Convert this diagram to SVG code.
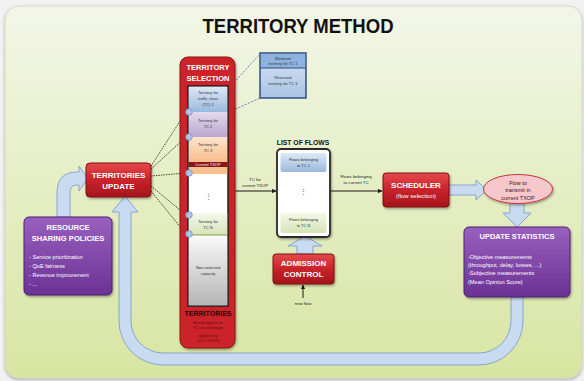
<svg xmlns="http://www.w3.org/2000/svg" width="584" height="381" viewBox="0 0 584 381">
<defs>
<linearGradient id="bg" x1="0" y1="0" x2="0" y2="1"><stop offset="0" stop-color="#f3f6e7"/><stop offset="1" stop-color="#d7e5a1"/></linearGradient>
<linearGradient id="red" x1="0" y1="0" x2="0" y2="1"><stop offset="0" stop-color="#e6494c"/><stop offset="0.5" stop-color="#c9222a"/><stop offset="1" stop-color="#a3161c"/></linearGradient>
<linearGradient id="purple" x1="0" y1="0" x2="0" y2="1"><stop offset="0" stop-color="#9960bf"/><stop offset="1" stop-color="#6b3294"/></linearGradient>
<linearGradient id="gblue" x1="0" y1="0" x2="0" y2="1"><stop offset="0" stop-color="#dde8f6"/><stop offset="1" stop-color="#9bb9dd"/></linearGradient>
<linearGradient id="gpurple" x1="0" y1="0" x2="0" y2="1"><stop offset="0" stop-color="#e3dbed"/><stop offset="1" stop-color="#b8a6cd"/></linearGradient>
<linearGradient id="gorange" x1="0" y1="0" x2="0" y2="1"><stop offset="0" stop-color="#fde4cf"/><stop offset="1" stop-color="#f8bd8a"/></linearGradient>
<linearGradient id="ggray" x1="0" y1="0" x2="0" y2="1"><stop offset="0" stop-color="#f8f8f8"/><stop offset="1" stop-color="#b5b5b5"/></linearGradient>
<linearGradient id="ggreen" x1="0" y1="0" x2="0" y2="1"><stop offset="0" stop-color="#f4f8ea"/><stop offset="1" stop-color="#d6e4b6"/></linearGradient>
<linearGradient id="gcall" x1="0" y1="0" x2="0" y2="1"><stop offset="0" stop-color="#d6e4f5"/><stop offset="1" stop-color="#a9c3e4"/></linearGradient>
<filter id="sh" x="-20%" y="-20%" width="140%" height="140%"><feDropShadow dx="1" dy="1.5" stdDeviation="1.2" flood-color="#000" flood-opacity="0.35"/></filter>
<filter id="psh" x="-5%" y="-5%" width="110%" height="110%"><feDropShadow dx="0" dy="1.5" stdDeviation="1.5" flood-color="#000" flood-opacity="0.3"/></filter>
<marker id="ah" viewBox="0 0 6 6" refX="5.5" refY="3" markerWidth="4.5" markerHeight="4.5" orient="auto"><path d="M0,0 L6,3 L0,6 z" fill="#1a1a1a"/></marker>
</defs>
<style>
text { font-family: "Liberation Sans", Arial, sans-serif; }
.wb { fill:#fff; font-weight:bold; text-anchor:middle; }
.wr { fill:#fff; text-anchor:middle; }
.sm { font-size:4px; fill:#333; text-anchor:middle; }
.lbl { font-size:4.3px; fill:#222; text-anchor:middle; }
.body { fill:#fff; font-size:5.6px; }
.redbox { fill:url(#red); stroke:#7d1111; stroke-width:1; filter:url(#sh); }
.purplebox { fill:url(#purple); stroke:#4e2270; stroke-width:1; filter:url(#sh); }
.pipe { fill:#c8dbf1; stroke:#88a6cb; stroke-width:1; }
.dot { stroke:#3e4c26; stroke-width:1; stroke-dasharray:1.5 1; fill:none; }
.dash { stroke:#5b86c0; stroke-width:1; stroke-dasharray:2 1.5; fill:none; }
.line { stroke:#221010; stroke-width:1; fill:none; }
.bullet { fill:#aac5e7; stroke:#6f8fbf; stroke-width:0.7; }
</style>

<rect x="0" y="0" width="584" height="381" fill="#f2f2f2"/>
<rect x="5" y="6" width="577" height="372" rx="14" fill="url(#bg)" stroke="#d0d6c0" stroke-width="0.8" filter="url(#psh)"/>

<text x="298" y="33" font-size="20" font-weight="bold" fill="#111" text-anchor="middle" textLength="191" lengthAdjust="spacingAndGlyphs">TERRITORY METHOD</text>

<g id="connectors">
  <path class="pipe" d="M511,297 L511,321 A32,32 0 0 1 479,353 L163,353 A32,32 0 0 1 131,321 L131,212 L138,212 L125,196 L112,212 L119,212 L119,321 A44,44 0 0 0 163,365 L479,365 A44,44 0 0 0 523,321 L523,297 Z"/>
  <path class="pipe" d="M57,217 L57,193 Q57,172 77,172 L79,172 L79,166 L88,178.5 L79,191 L79,185 L77,185 Q70,185 70,193 L70,217 Z"/>
  <path class="pipe" d="M449,185 L476,185 L476,180 L487,190 L476,200 L476,195 L449,195 Z"/>
  <path class="pipe" d="M510,203 L510,213 L503,213 L517,227 L531,213 L524,213 L524,203 Z"/>
  <path class="pipe" d="M297,254 L297,246 L288,246 L305,236 L322,246 L313,246 L313,254 Z"/>
  <line class="dot" x1="151" y1="166" x2="186" y2="112"/>
  <line class="dot" x1="151" y1="169" x2="186" y2="137"/>
  <line class="dot" x1="151" y1="176" x2="186" y2="173"/>
  <line class="dot" x1="151" y1="186" x2="186" y2="215"/>
  <line class="dot" x1="151" y1="191" x2="186" y2="234"/>
  <line class="dash" x1="229" y1="88" x2="260" y2="54"/>
  <line class="dash" x1="229" y1="112" x2="260" y2="98"/>
  <polyline class="line" points="228,164 233,164 233,191 276,191" marker-end="url(#ah)"/>
  <line class="line" x1="331" y1="191" x2="382" y2="191" marker-end="url(#ah)"/>
  <line class="line" x1="303" y1="298" x2="303" y2="285" marker-end="url(#ah)"/>
  <text class="lbl" x="255" y="181">TC for</text>
  <text class="lbl" x="255" y="187">current TXOP</text>
  <text class="lbl" x="356" y="178">Flows belonging</text>
  <text class="lbl" x="356" y="184">to current TC</text>
  <text class="lbl" x="303" y="305">new flow</text>
</g>

<g id="territory-selection">
  <rect x="180" y="57" width="55" height="291" rx="8" fill="#cc2229" stroke="#8a1515" stroke-width="1" filter="url(#sh)"/>
  <text class="wb" x="208" y="70" font-size="7.5">TERRITORY</text>
  <text class="wb" x="208" y="81" font-size="7.5">SELECTION</text>
  <rect x="188" y="86" width="40" height="220" fill="#fff" stroke="#1e1e1e" stroke-width="1.5"/>
  <rect x="188.8" y="86.8" width="38.4" height="25.2" fill="url(#gblue)"/>
  <rect x="188.8" y="112" width="38.4" height="25" fill="url(#gpurple)"/>
  <rect x="188.8" y="137" width="38.4" height="25" fill="url(#gorange)"/>
  <rect x="188.8" y="162" width="38.4" height="5" fill="#8c1518"/>
  <rect x="188.8" y="167" width="38.4" height="7" fill="#f9c08f"/>
  <rect x="188.8" y="213" width="38.4" height="22" fill="url(#ggreen)"/>
  <line x1="188.8" y1="235" x2="227.2" y2="235" stroke="#7aa33a" stroke-width="1"/>
  <rect x="188.8" y="237" width="38.4" height="68.2" fill="url(#ggray)"/>
  <text class="sm" x="208" y="94">Territory for</text>
  <text class="sm" x="208" y="100">traffic class</text>
  <text class="sm" x="208" y="106">(TC) 1</text>
  <text class="sm" x="208" y="122">Territory for</text>
  <text class="sm" x="208" y="128">TC 2</text>
  <text class="sm" x="208" y="146">Territory for</text>
  <text class="sm" x="208" y="152">TC 3</text>
  <text class="sm" x="208" y="166" fill="#fff" style="fill:#fff">Current TXOP</text>
  <text x="208" y="199" font-size="7" fill="#555" text-anchor="middle">⋮</text>
  <text class="sm" x="208" y="223">Territory for</text>
  <text class="sm" x="208" y="229">TC N</text>
  <text class="sm" x="208" y="269">Non-reserved</text>
  <text class="sm" x="208" y="275">capacity</text>
  <text x="208" y="316" font-size="7" font-weight="bold" fill="#2d0606" text-anchor="middle">TERRITORIES</text>
  <text x="208" y="324" font-size="3.8" fill="#5c0b0b" text-anchor="middle">Bound edge to its</text>
  <text x="208" y="329" font-size="3.8" fill="#5c0b0b" text-anchor="middle">TC's transmission</text>
  <text x="208" y="337" font-size="3.8" fill="#5c0b0b" text-anchor="middle">opportunity</text>
  <text x="208" y="342" font-size="3.8" fill="#5c0b0b" text-anchor="middle">(TC's TXOP)</text>
  <circle class="bullet" cx="189" cy="112" r="3.3"/>
  <circle class="bullet" cx="189" cy="137" r="3.3"/>
  <circle class="bullet" cx="189" cy="173" r="3.3"/>
  <circle class="bullet" cx="189" cy="215" r="3.3"/>
  <circle class="bullet" cx="189" cy="234" r="3.3"/>
</g>

<g id="territory-detail">
  <rect x="260" y="53" width="46" height="45" fill="url(#gcall)" stroke="#2f4f7f" stroke-width="1.5"/>
  <rect x="261" y="54" width="44" height="14" fill="#8eb2df"/>
  <line x1="260" y1="68" x2="306" y2="68" stroke="#2f4f7f" stroke-width="1"/>
  <text class="sm" x="283" y="60">Minimum</text>
  <text class="sm" x="283" y="65">territory for TC 1</text>
  <text class="sm" x="283" y="79">Reserved</text>
  <text class="sm" x="283" y="85">territory for TC 1</text>
</g>

<g id="territories-update">
  <rect class="redbox" x="86" y="163" width="65" height="34" rx="4"/>
  <text class="wb" x="118.5" y="178" font-size="8">TERRITORIES</text>
  <text class="wb" x="118.5" y="189" font-size="8">UPDATE</text>
</g>

<g id="resource-sharing-policies">
  <rect class="purplebox" x="24" y="217" width="88" height="78" rx="5"/>
  <text class="wb" x="68" y="230" font-size="7.6">RESOURCE</text>
  <text class="wb" x="68" y="241" font-size="7.6">SHARING POLICIES</text>
  <text class="body" x="29" y="259">- Service prioritization</text>
  <text class="body" x="29" y="268">- QoE fairness</text>
  <text class="body" x="29" y="277">- Revenue improvement</text>
  <text class="body" x="29" y="286">- ...</text>
</g>

<g id="list-of-flows">
  <text x="303" y="145" font-size="6.8" font-weight="bold" fill="#111" text-anchor="middle">LIST OF FLOWS</text>
  <rect x="277" y="149" width="53" height="88" rx="4" fill="#fff" stroke="#2a2a2a" stroke-width="1.8" filter="url(#sh)"/>
  <rect x="280.5" y="153" width="46" height="19" rx="2" fill="url(#gblue)"/>
  <rect x="280.5" y="213" width="46" height="20" rx="2" fill="url(#ggreen)"/>
  <text class="sm" x="303.5" y="161">Flows belonging</text>
  <text class="sm" x="303.5" y="167">to TC 1</text>
  <text x="303.5" y="194" font-size="7" fill="#555" text-anchor="middle">⋮</text>
  <text class="sm" x="303.5" y="221">Flows belonging</text>
  <text class="sm" x="303.5" y="227">to TC N</text>
</g>

<g id="admission-control">
  <rect class="redbox" x="273" y="254" width="61" height="30" rx="3"/>
  <text class="wb" x="303.5" y="266" font-size="8">ADMISSION</text>
  <text class="wb" x="303.5" y="277" font-size="8">CONTROL</text>
</g>

<g id="scheduler">
  <rect class="redbox" x="383" y="173" width="66" height="34" rx="3"/>
  <text class="wb" x="416" y="188" font-size="8">SCHEDULER</text>
  <text class="wr" x="416" y="198" font-size="6">(flow selection)</text>
</g>

<g id="flow-to-transmit">
  <ellipse cx="518" cy="189" rx="34.5" ry="14.5" fill="#f7c8cb" stroke="#c4383d" stroke-width="1" filter="url(#sh)"/>
  <text x="518" y="185" font-size="5.5" fill="#4a0d0d" text-anchor="middle">Flow to</text>
  <text x="518" y="192" font-size="5.5" fill="#4a0d0d" text-anchor="middle">transmit in</text>
  <text x="518" y="200" font-size="5.5" fill="#4a0d0d" text-anchor="middle">current TXOP</text>
</g>

<g id="update-statistics">
  <rect class="purplebox" x="464" y="227" width="106" height="70" rx="5"/>
  <text class="wb" x="517" y="239" font-size="7.5">UPDATE STATISTICS</text>
  <text class="body" x="468" y="259">-Objective measurements</text>
  <text class="body" x="468" y="267">(throughput, delay, losses, ...)</text>
  <text class="body" x="468" y="275">-Subjective measurements</text>
  <text class="body" x="468" y="284">(Mean Opinion Score)</text>
</g>
</svg>
